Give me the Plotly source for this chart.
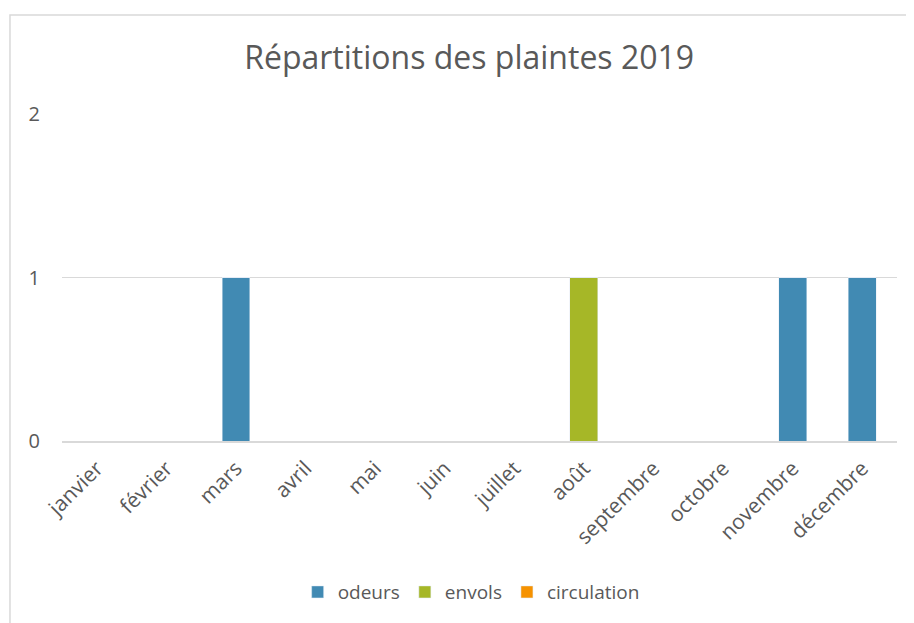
import plotly.graph_objects as go

months = ["janvier", "février", "mars", "avril", "mai", "juin", "juillet",
          "août", "septembre", "octobre", "novembre", "décembre"]
odeurs = [0, 0, 1, 0, 0, 0, 0, 0, 0, 0, 1, 1]
envols = [0, 0, 0, 0, 0, 0, 0, 1, 0, 0, 0, 0]
circulation = [0, 0, 0, 0, 0, 0, 0, 0, 0, 0, 0, 0]
y_ticks = [0, 1, 2]

text_color = "#595959"
grid_color = "#D9D9D9"
font_family = "Open Sans"

fig = go.Figure()
fig.add_trace(go.Bar(x=months, y=odeurs, name="odeurs", marker_color="#418AB3"))
fig.add_trace(go.Bar(x=months, y=envols, name="envols", marker_color="#A6B727"))
fig.add_trace(go.Bar(x=months, y=circulation, name="circulation", marker_color="#F69200"))

# page has an 8px body margin, so the figure is shrunk to fit the window
fig.update_layout(
    width=906,
    height=615,
    barmode="stack",
    bargap=0.6,
    plot_bgcolor="white",
    paper_bgcolor="white",
    margin=dict(l=54, r=17, t=106, b=182),
    font=dict(family=font_family, color=text_color, size=20),
    title=dict(
        text="Répartitions des plaintes 2019",
        x=0.509,
        xanchor="center",
        y=0.919,
        yanchor="middle",
        font=dict(size=32, color=text_color),
    ),
    showlegend=True,
    legend=dict(
        orientation="h",
        x=0.49,
        xanchor="center",
        y=-0.462,
        yanchor="middle",
        font=dict(size=19),
        itemwidth=30,
        traceorder="normal",
    ),
    xaxis=dict(
        tickangle=-45,
        showgrid=False,
        showline=True,
        linecolor=grid_color,
        linewidth=1.5,
        ticks="",
        ticklabelstandoff=5,
        tickfont=dict(size=21),
    ),
    yaxis=dict(
        range=[0, 2],
        tickvals=y_ticks,
        showgrid=True,
        gridcolor=grid_color,
        gridwidth=1,
        zeroline=False,
        showline=False,
        ticks="",
        ticklabelstandoff=21,
        tickfont=dict(size=20),
    ),
    shapes=[
        dict(type="rect", xref="paper", yref="paper",
             x0=-0.0623, x1=1.2, y0=-1.0, y1=1.303,
             line=dict(color=grid_color, width=1.5), layer="below"),
    ],
)

fig.write_html("out.html")
